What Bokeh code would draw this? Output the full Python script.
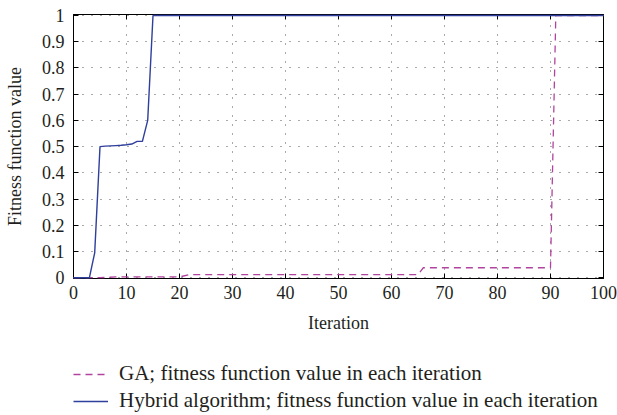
from bokeh.plotting import figure
from bokeh.layouts import column
from bokeh.models import (Range1d, LinearAxis, FixedTicker, Legend, LegendItem)
from bokeh.embed import file_html
from bokeh.resources import INLINE

# Data
hybrid_x = list(range(0, 101))
hybrid_y = [0.0, 0.0, 0.0, 0.0, 0.095, 0.50, 0.502, 0.503, 0.504, 0.505, 0.507,
            0.51, 0.52, 0.52, 0.60] + [1.0] * 86

ga_x = [0, 5, 8, 20, 22, 65, 66, 90, 91, 100]
ga_y = [0.0, 0.0, 0.003, 0.003, 0.012, 0.012, 0.038, 0.038, 1.0, 1.0]

x_ticks = list(range(0, 101, 10))
y_ticks = [round(i * 0.1, 1) for i in range(11)]
y_tick_labels = ["0", "0.1", "0.2", "0.3", "0.4", "0.5", "0.6", "0.7", "0.8", "0.9", "1"]

labels = ["GA; fitness function value in each iteration",
          "Hybrid algorithm; fitness function value in each iteration"]

FONT = "Liberation Serif"
TXT = "#231f20"
BLUE = "#2f3f9c"
PINK = "#b0449e"
GA_DASH = "7 5"

p = figure(frame_width=530, frame_height=264, output_backend="svg", toolbar_location=None,
           x_range=Range1d(0, 100), y_range=Range1d(-0.003, 1.004),
           min_border_left=73, min_border_right=14, min_border_top=14,
           min_border_bottom=62)

p.outline_line_color = "black"
p.outline_line_width = 1

ga_r = p.line(ga_x, ga_y, line_color=PINK, line_width=1.3, line_dash=GA_DASH, level="overlay")
hy_r = p.line(hybrid_x, hybrid_y, line_color=BLUE, line_width=1.4, level="overlay")

for ax in [p.xaxis[0], p.yaxis[0]]:
    ax.axis_line_color = "black"
    ax.major_tick_in = 5
    ax.major_tick_out = 0
    ax.minor_tick_in = 0
    ax.minor_tick_out = 0
    ax.major_tick_line_color = "black"
    ax.major_label_text_font = FONT
    ax.major_label_text_font_size = "18px"
    ax.major_label_text_color = TXT
    ax.axis_label_text_font = FONT
    ax.axis_label_text_font_size = "18px"
    ax.axis_label_text_font_style = "normal"
    ax.axis_label_text_color = TXT

p.xaxis[0].ticker = FixedTicker(ticks=x_ticks)
p.yaxis[0].ticker = FixedTicker(ticks=y_ticks)
p.yaxis[0].major_label_overrides = {t: l for t, l in zip(y_ticks, y_tick_labels)}
p.xaxis[0].axis_label = "Iteration"
p.yaxis[0].axis_label = "Fitness function value"
p.xaxis[0].major_label_standoff = 7
p.xaxis[0].axis_label_standoff = 11
p.yaxis[0].major_label_standoff = 9
p.yaxis[0].axis_label_standoff = 14

# mirrored axes (ticks only)
top = LinearAxis(ticker=FixedTicker(ticks=x_ticks),
                 major_label_overrides={t: "" for t in x_ticks},
                 major_tick_in=5, major_tick_out=0, minor_tick_in=0, minor_tick_out=0,
                 axis_line_color="black", major_label_standoff=0)
right = LinearAxis(ticker=FixedTicker(ticks=y_ticks),
                   major_label_overrides={t: "" for t in y_ticks},
                   major_tick_in=5, major_tick_out=0, minor_tick_in=0, minor_tick_out=0,
                   axis_line_color="black", major_label_standoff=0)
p.add_layout(top, "above")
p.add_layout(right, "right")

p.xgrid.ticker = FixedTicker(ticks=x_ticks)
p.ygrid.ticker = FixedTicker(ticks=y_ticks)
for g in [p.xgrid[0], p.ygrid[0]]:
    g.grid_line_color = "#555555"
    g.grid_line_dash = "1 8"
    g.grid_line_width = 1

# legend panel below the chart (proxy lines kept out of view)
p2 = figure(width=617, height=75, output_backend="svg", toolbar_location=None,
            x_range=Range1d(1000, 1001), y_range=Range1d(1000, 1001),
            x_axis_location=None, y_axis_location=None,
            min_border=0)
p2.grid.visible = False
p2.outline_line_color = None
lg_ga = p2.line(ga_x, ga_y, line_color=PINK, line_width=1.3, line_dash=GA_DASH)
lg_hy = p2.line(hybrid_x, hybrid_y, line_color=BLUE, line_width=1.4)

legend = Legend(items=[LegendItem(label=labels[0], renderers=[lg_ga]),
                       LegendItem(label=labels[1], renderers=[lg_hy])],
                orientation="vertical", location=(0, 2))
legend.label_text_font = FONT
legend.label_text_font_size = "21px"
legend.label_text_color = TXT
legend.glyph_width = 35
legend.label_standoff = 11
legend.label_height = 20
legend.glyph_height = 20
legend.spacing = 2
legend.padding = 0
legend.margin = 0
legend.border_line_color = None
legend.background_fill_alpha = 0
p2.add_layout(legend)

layout = column(p, p2, spacing=0)
open("out.html", "w").write(file_html(layout, INLINE))
